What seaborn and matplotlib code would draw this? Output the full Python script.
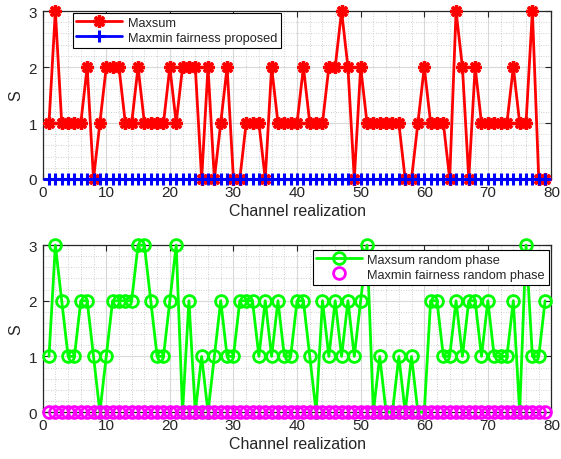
import numpy as np
import pandas as pd
import matplotlib
matplotlib.use("Agg")
import matplotlib.pyplot as plt
from matplotlib.ticker import MultipleLocator
import seaborn as sns

# Number of selected elements S per channel realization
maxsum = [1, 3, 1, 1, 1, 1, 2, 0, 1, 2, 2, 2, 1, 1, 2, 1, 1, 1, 1, 2,
          1, 2, 2, 2, 0, 2, 0, 1, 2, 0, 0, 1, 1, 1, 0, 2, 1, 1, 1, 1,
          2, 1, 1, 1, 2, 2, 3, 2, 0, 2, 1, 1, 1, 1, 1, 1, 0, 0, 1, 2,
          1, 1, 1, 0, 3, 2, 0, 2, 1, 1, 1, 1, 1, 2, 1, 1, 3, 0, 0]
maxmin_proposed = [0] * 79
maxsum_random = [1, 3, 2, 1, 1, 2, 2, 1, 0, 1, 2, 2, 2, 2, 3, 3, 2, 1, 1, 2,
                 3, 0, 2, 0, 1, 0, 1, 2, 1, 1, 2, 2, 2, 1, 2, 1, 2, 1, 1, 2,
                 2, 1, 0, 2, 1, 2, 1, 2, 1, 2, 3, 0, 1, 0, 0, 1, 0, 1, 0, 0,
                 2, 2, 1, 1, 2, 1, 2, 2, 1, 2, 1, 1, 1, 2, 0, 3, 1, 1, 2]
maxmin_random = [0] * 79
realization = np.arange(1, len(maxsum) + 1)

x_ticks = [0, 10, 20, 30, 40, 50, 60, 70, 80]
y_ticks = [0, 1, 2, 3]
x_label = "Channel realization"
y_label = "S"

sns.set_theme(style="white")
plt.rcParams["font.family"] = ["Liberation Sans", "DejaVu Sans"]

top_df = pd.DataFrame({"x": realization, "Maxsum": maxsum,
                       "Maxmin fairness proposed": maxmin_proposed})
bot_df = pd.DataFrame({"x": realization, "Maxsum random phase": maxsum_random,
                       "Maxmin fairness random phase": maxmin_random})

fig = plt.figure(figsize=(5.61, 4.60), dpi=100)
ax1 = fig.add_axes([0.076, 0.6087, 0.907, 0.365])
ax2 = fig.add_axes([0.076, 0.102, 0.907, 0.363])

RED, BLUE, GREEN, MAGENTA = (1, 0, 0), (0, 0, 1), (0, 1, 0), (1, 0, 1)
asterisk = (8, 2, 0)

sns.lineplot(data=top_df, x="x", y="Maxsum", ax=ax1, color=RED,
             linewidth=2, marker=asterisk, markersize=9, markeredgewidth=2.4,
             markeredgecolor=RED, markerfacecolor=RED,
             label="Maxsum", clip_on=False, zorder=3)
sns.lineplot(data=top_df, x="x", y="Maxmin fairness proposed", ax=ax1,
             color=BLUE, linewidth=2, marker="+", markersize=9,
             markeredgewidth=2.2, markeredgecolor=BLUE,
             label="Maxmin fairness proposed", clip_on=False, zorder=4)

sns.lineplot(data=bot_df, x="x", y="Maxsum random phase", ax=ax2,
             color=GREEN, linewidth=2, marker="o", markersize=8.5,
             markerfacecolor="none", markeredgecolor=GREEN,
             markeredgewidth=2, label="Maxsum random phase",
             clip_on=False, zorder=3)
sns.lineplot(data=bot_df, x="x", y="Maxmin fairness random phase", ax=ax2,
             color=MAGENTA, linestyle="none", marker="o", markersize=8.5,
             markerfacecolor="none", markeredgecolor=MAGENTA,
             markeredgewidth=2, label="Maxmin fairness random phase",
             clip_on=False, zorder=4)

dark = (0.15, 0.15, 0.15)
for ax in (ax1, ax2):
    ax.set_xlim(0, 80)
    ax.set_ylim(0, 3)
    ax.set_xticks(x_ticks)
    ax.set_yticks(y_ticks)
    ax.xaxis.set_minor_locator(MultipleLocator(2))
    ax.yaxis.set_minor_locator(MultipleLocator(0.2))
    ax.grid(which="major", color=(0.85, 0.85, 0.85), linewidth=0.8, linestyle="-")
    ax.grid(which="minor", color=(0.75, 0.75, 0.75), linewidth=0.6, linestyle=(0, (1, 2)))
    ax.set_axisbelow(True)
    ax.tick_params(which="major", direction="in", length=4, width=0.8,
                   top=True, right=True, labelsize=11, colors=dark,
                   bottom=True, left=True, pad=4)
    ax.tick_params(which="minor", length=0, top=False, right=False)
    for sp in ax.spines.values():
        sp.set_color(dark)
        sp.set_linewidth(0.9)
        sp.set_visible(True)
    ax.set_xlabel(x_label, fontsize=11.5, color=dark, labelpad=3)
    ax.set_ylabel(y_label, fontsize=11.5, color=dark, labelpad=4)

leg_kw = dict(fontsize=9.2, frameon=True, fancybox=False, framealpha=1,
              edgecolor="black", borderaxespad=0, handlelength=3.6,
              handletextpad=0.4, borderpad=0.3, labelspacing=0.25)
leg1 = ax1.legend(loc="upper left", bbox_to_anchor=(0.059, 0.99), **leg_kw)
leg2 = ax2.legend(loc="upper right", bbox_to_anchor=(0.995, 0.972), **leg_kw)
for leg in (leg1, leg2):
    leg.get_frame().set_linewidth(0.8)
    leg.set_zorder(10)

fig.savefig("out.png", dpi=100)
